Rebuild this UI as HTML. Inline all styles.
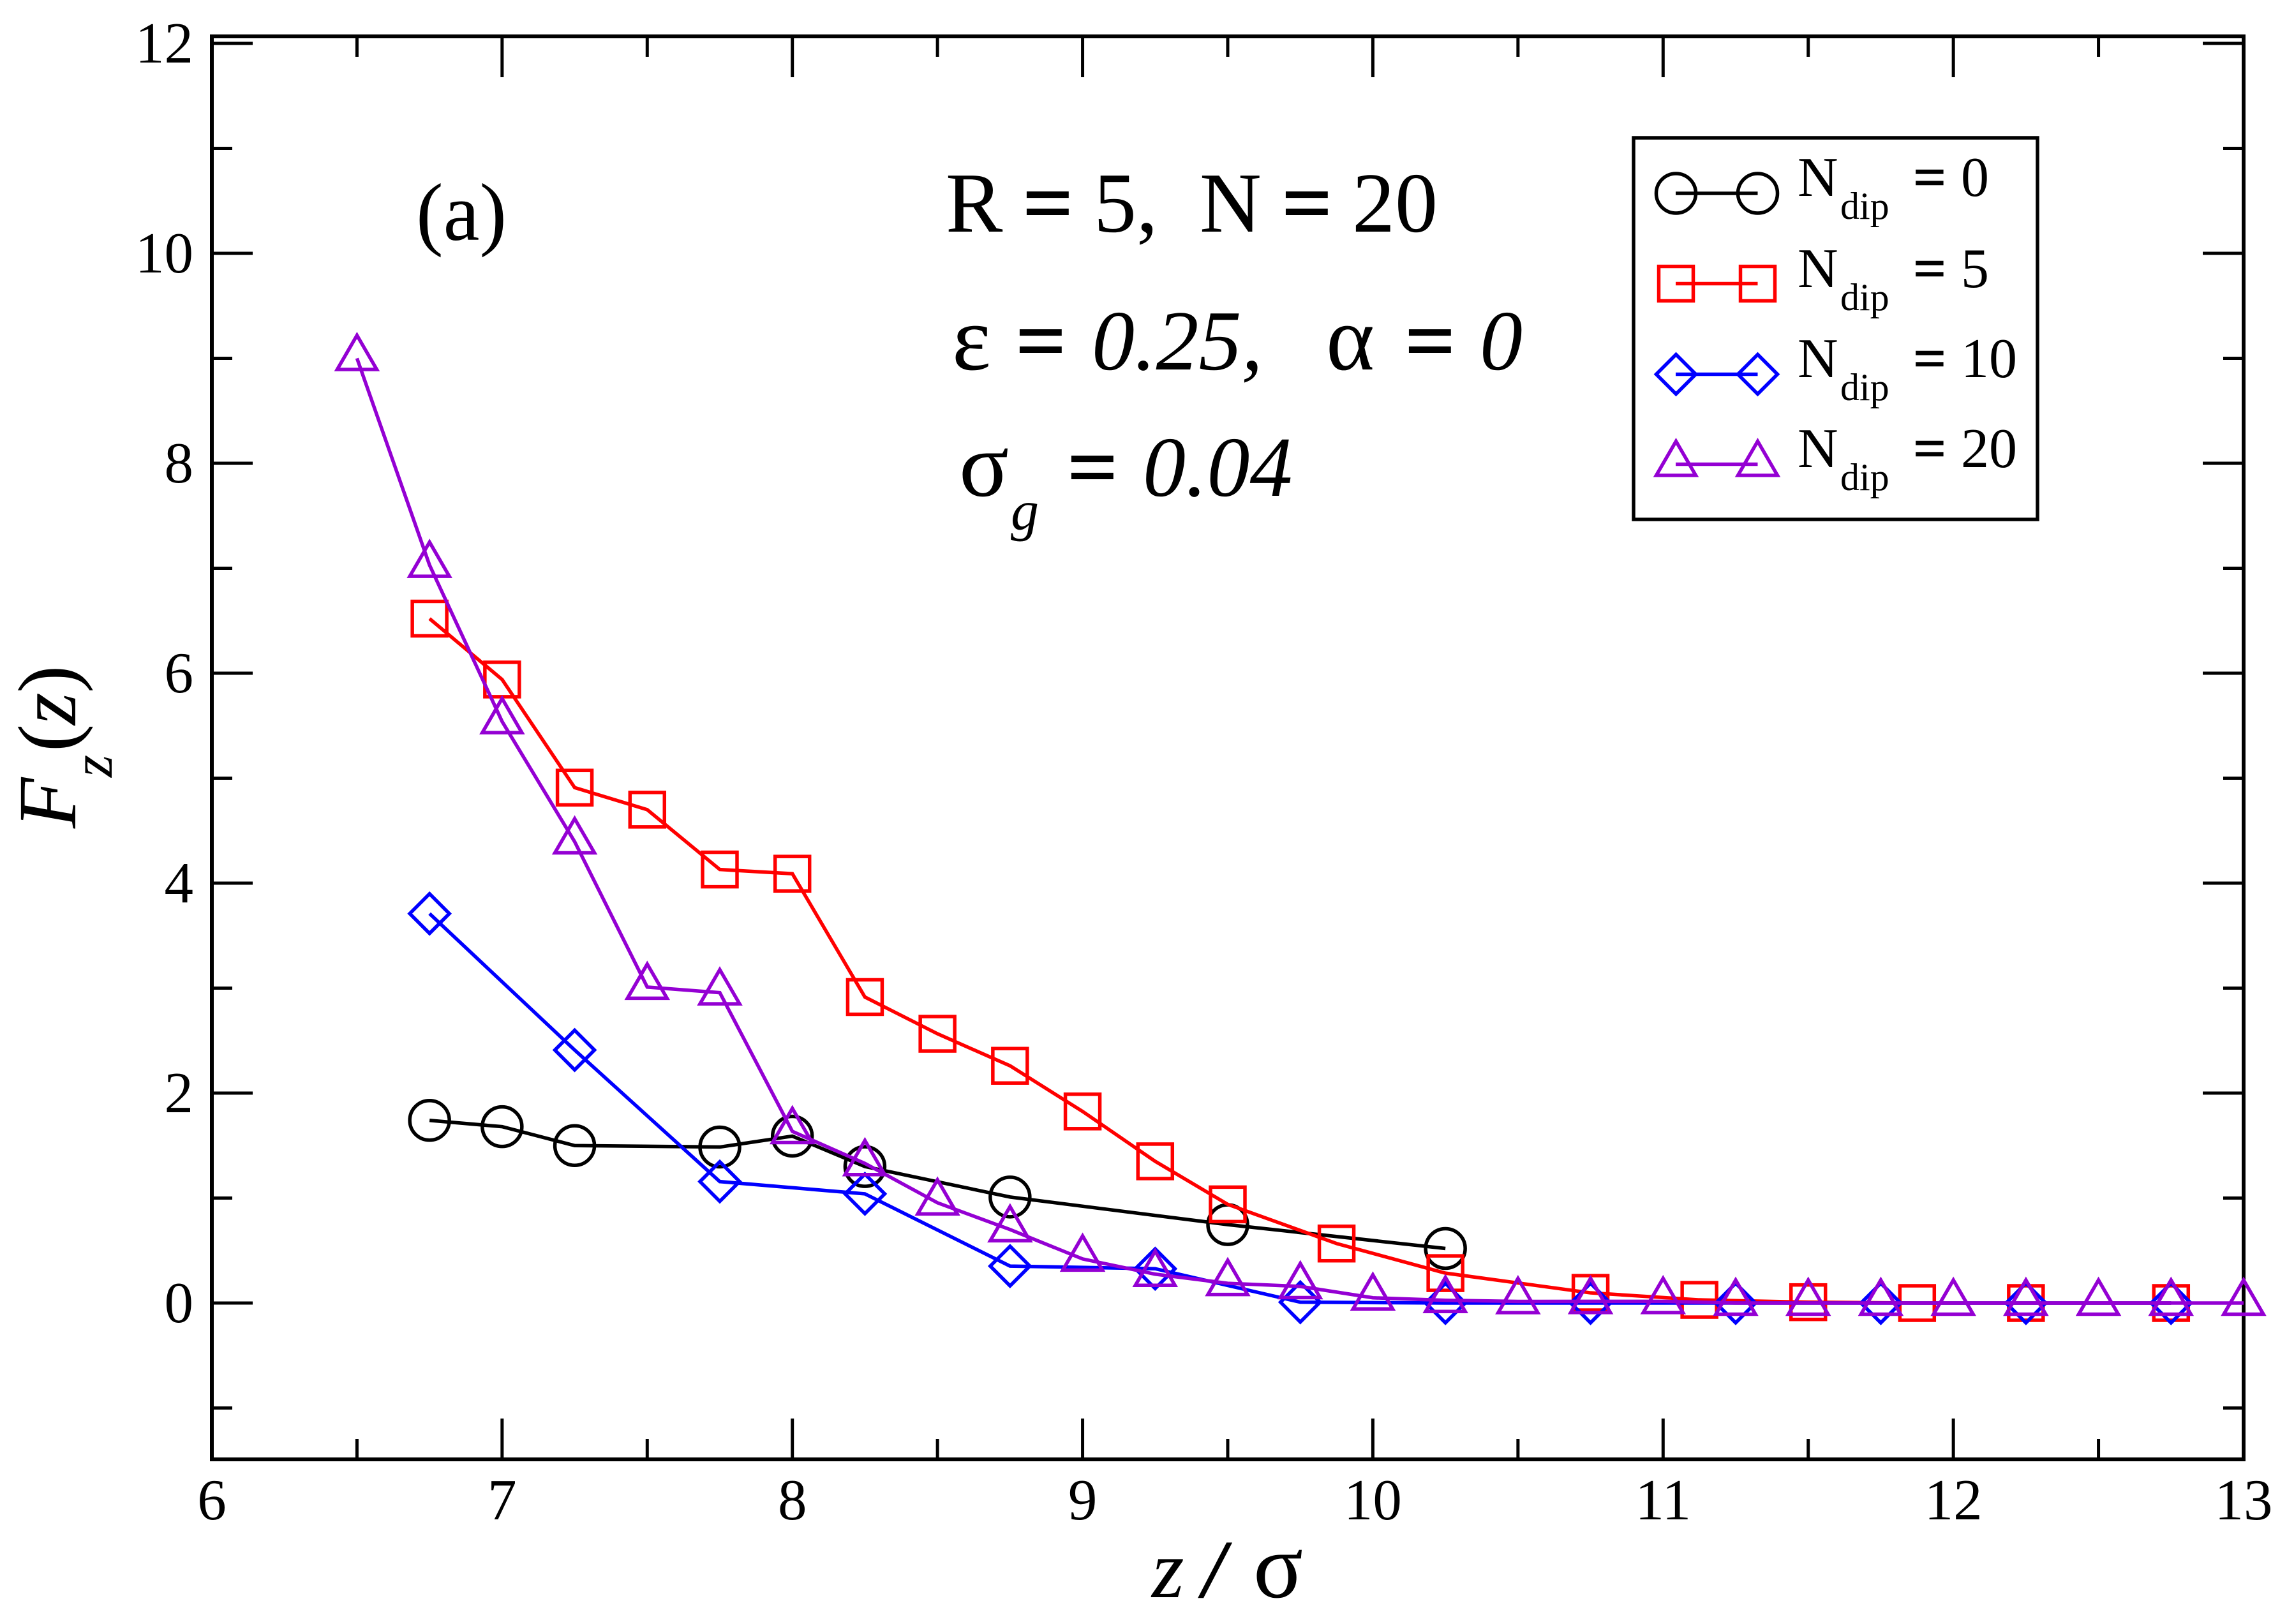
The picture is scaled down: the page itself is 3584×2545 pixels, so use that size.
<!DOCTYPE html>
<html lang="en">
<head>
<meta charset="utf-8">
<title>Fz(z) chart</title>
<style>
html,body{margin:0;padding:0;background:#fff;}
svg{display:block;font-family:"Liberation Serif","DejaVu Serif",serif;fill:#000;}
text{fill:#000;stroke:none;}
.it{font-style:italic;}
text.eq{stroke:#000;stroke-width:3.5;}
tspan.eq{stroke:#000;stroke-width:2.5;}
.gr{font-size:145px;}
</style>
</head>
<body>
<svg id="chart" xmlns="http://www.w3.org/2000/svg" width="3584" height="2545" viewBox="0 0 3584 2545">
  <rect x="0" y="0" width="3584" height="2545" fill="#fff"/>
  <g id="axes"></g>
  <g id="series"></g>

  <text x="652" y="376" font-size="128">(a)</text>

  <g font-size="134">
    <text x="1482" y="363">R</text><text class="eq" x="1604" y="363">=</text><text x="1714" y="363">5,</text>
    <text x="1880" y="363">N</text><text class="eq" x="2010" y="363">=</text><text x="2119" y="363">20</text>
  </g>
  <g font-size="134">
    <text class="gr" x="1492" y="579">ε</text><text class="eq" x="1593" y="579">=</text><text class="it" x="1711" y="579">0.25,</text>
    <text class="gr" x="2078" y="579">α</text><text class="eq" x="2203" y="579">=</text><text class="it" x="2319" y="579">0</text>
  </g>
  <g font-size="134">
    <text class="gr" x="1503" y="777">σ</text><text class="it" x="1584" y="830" font-size="88">g</text>
    <text class="eq" x="1674" y="777">=</text><text class="it" x="1791" y="777">0.04</text>
  </g>

  <g font-size="130">
    <text class="it" x="1805" y="2503">z</text>
    <text x="1885" y="2503" style="font-weight:bold;font-style:italic">/</text>
    <text class="gr" x="1964" y="2503">σ</text>
  </g>
  <g transform="translate(118 0) rotate(-90)">
    <text class="it" x="-1298" y="0" font-size="130">F</text>
    <text class="it" x="-1218" y="57" font-size="90">z</text>
    <text x="-1178" y="0" font-size="130">(</text>
    <text class="it" x="-1136" y="0" font-size="130">z</text>
    <text x="-1086" y="0" font-size="130">)</text>
  </g>

  <g>
    <rect x="2560" y="216" width="633" height="598" fill="#fff" stroke="#000" stroke-width="5.5"/>

    <g fill="none" stroke="#000" stroke-width="5.5">
      <line x1="2626" y1="303" x2="2754.500" y2="303"/>
      <circle cx="2626.500" cy="303" r="31"/><circle cx="2754.500" cy="303" r="31"/>
    </g>
    <text font-size="88" y="307"><tspan x="2817">N</tspan><tspan x="2884" y="343" font-size="60">dip</tspan><tspan class="eq" x="2999" y="307">=</tspan><tspan x="3073" y="307">0</tspan></text>

    <g fill="none" stroke="#f00" stroke-width="5.5">
      <line x1="2626" y1="444.500" x2="2754.500" y2="444.500"/>
      <rect x="2599.500" y="417.500" width="54" height="54"/><rect x="2727.500" y="417.500" width="54" height="54"/>
    </g>
    <text font-size="88" y="450"><tspan x="2817">N</tspan><tspan x="2884" y="486" font-size="60">dip</tspan><tspan class="eq" x="2999" y="450">=</tspan><tspan x="3073" y="450">5</tspan></text>

    <g fill="none" stroke="#00f" stroke-width="5.5">
      <line x1="2626" y1="586.500" x2="2754.500" y2="586.500"/>
      <polygon points="2626.500,555.500 2657.500,586.500 2626.500,617.500 2595.500,586.500"/>
      <polygon points="2754.500,555.500 2785.500,586.500 2754.500,617.500 2723.500,586.500"/>
    </g>
    <text font-size="88" y="591"><tspan x="2817">N</tspan><tspan x="2884" y="627" font-size="60">dip</tspan><tspan class="eq" x="2999" y="591">=</tspan><tspan x="3073" y="591">10</tspan></text>

    <g fill="none" stroke="#9400d3" stroke-width="5.5">
      <line x1="2626" y1="727.500" x2="2754.500" y2="727.500"/>
      <polygon points="2626.500,691.500 2657.500,745 2595.500,745"/>
      <polygon points="2754.500,691.500 2785.500,745 2723.500,745"/>
    </g>
    <text font-size="88" y="732"><tspan x="2817">N</tspan><tspan x="2884" y="768" font-size="60">dip</tspan><tspan class="eq" x="2999" y="732">=</tspan><tspan x="3073" y="732">20</tspan></text>
  </g>
</svg>

<script>
var xTickLabels = [6, 7, 8, 9, 10, 11, 12, 13];
var xMinorTicks = [6.5, 7.5, 8.5, 9.5, 10.5, 11.5, 12.5];
var yTickLabels = [0, 2, 4, 6, 8, 10, 12];
var yMinorTicks = [-1, 1, 3, 5, 7, 9, 11];

var zNdip0 = [6.75, 7, 7.25, 7.75, 8, 8.25, 8.75, 9.5, 10.25];
var fNdip0 = [1.74, 1.68, 1.50, 1.486, 1.59, 1.30, 1.01, 0.747, 0.52];

var zNdip5 = [6.75, 7, 7.25, 7.5, 7.75, 8, 8.25, 8.5, 8.75, 9, 9.25, 9.5, 9.875, 10.25, 10.75, 11.125, 11.5, 11.875, 12.25, 12.75];
var fNdip5 = [6.52, 5.94, 4.91, 4.70, 4.13, 4.09, 2.915, 2.565, 2.26, 1.825, 1.35, 0.94, 0.567, 0.285, 0.097, 0.03, 0.008, 0, 0, 0];

var zNdip10 = [6.75, 7.25, 7.75, 8.25, 8.75, 9.25, 9.75, 10.25, 10.75, 11.25, 11.75, 12.25, 12.75];
var fNdip10 = [3.71, 2.41, 1.157, 1.04, 0.352, 0.327, 0.008, 0, 0, 0, 0, 0, 0];

var zNdip20 = [6.5, 6.75, 7, 7.25, 7.5, 7.75, 8, 8.25, 8.5, 8.75, 9, 9.25, 9.5, 9.75, 10, 10.25, 10.5, 10.75, 11, 11.25, 11.5, 11.75, 12, 12.25, 12.5, 12.75, 13];
var fNdip20 = [9.0, 7.03, 5.54, 4.395, 3.01, 2.957, 1.635, 1.33, 0.955, 0.70, 0.42, 0.275, 0.188, 0.158, 0.05, 0.026, 0.015, 0.016, 0.016, 0, 0, 0, 0, 0, 0, 0, 0];

var NS = 'http://www.w3.org/2000/svg';
var axisX0 = 332, axisX1 = 3516, axisY0 = 57, axisY1 = 2287;
var xLow = 6, xHigh = 13, yLow = -1.4894, yHigh = 12.0669;

function xScale(v) { return axisX0 + (v - xLow) * (axisX1 - axisX0) / (xHigh - xLow); }
function yScale(v) { return axisY1 - (v - yLow) * (axisY1 - axisY0) / (yHigh - yLow); }

function make(tag, attrs, parent) {
  var node = document.createElementNS(NS, tag);
  for (var k in attrs) { node.setAttribute(k, attrs[k]); }
  parent.appendChild(node);
  return node;
}

var axes = document.getElementById('axes');
var seriesLayer = document.getElementById('series');

var frame = make('rect', {x: axisX0, y: axisY0, width: axisX1 - axisX0, height: axisY1 - axisY0, fill: 'none', stroke: '#000', 'stroke-width': 6}, axes);



function xTick(v, len) {
  var px = xScale(v);
  var bottom = make('line', {x1: px, y1: axisY1, x2: px, y2: axisY1 - len, stroke: '#000', 'stroke-width': 5}, axes);
  
  
  var top = make('line', {x1: px, y1: axisY0, x2: px, y2: axisY0 + len, stroke: '#000', 'stroke-width': 5}, axes);
  
  
}
function yTick(v, len) {
  var py = yScale(v);
  var left = make('line', {x1: axisX0, y1: py, x2: axisX0 + len, y2: py, stroke: '#000', 'stroke-width': 5}, axes);
  
  
  var right = make('line', {x1: axisX1, y1: py, x2: axisX1 - len, y2: py, stroke: '#000', 'stroke-width': 5}, axes);
  
  
}

xMinorTicks.forEach(function (v) { xTick(v, 32); });
yMinorTicks.forEach(function (v) { yTick(v, 32); });

xTickLabels.forEach(function (v) {
  if (v !== xLow && v !== xHigh) { xTick(v, 64); }
  var label = make('text', {x: xScale(v), y: 2381, 'font-size': 91, 'text-anchor': 'middle'}, axes);
  label.textContent = String(v);
  
  
});

yTickLabels.forEach(function (v) {
  yTick(v, 64);
  var label = make('text', {x: 303, y: yScale(v) + 30, 'font-size': 91, 'text-anchor': 'end'}, axes);
  label.textContent = String(v);
  
  
});

function drawMarker(shape, px, py, color, parent) {
  var base = {fill: 'none', stroke: color, 'stroke-width': 5.5};
  var node;
  if (shape === 'circle') {
    base.cx = px; base.cy = py; base.r = 31;
    node = make('circle', base, parent);
  } else if (shape === 'square') {
    base.x = px - 27; base.y = py - 27; base.width = 54; base.height = 54;
    node = make('rect', base, parent);
  } else if (shape === 'diamond') {
    base.points = [px, py - 31, px + 31, py, px, py + 31, px - 31, py].join(' ');
    node = make('polygon', base, parent);
  } else {
    base.points = [px, py - 36, px + 31, py + 17.5, px - 31, py + 17.5].join(' ');
    node = make('polygon', base, parent);
  }
  return node;
}

function drawSeries(zs, fs, color, shape, name) {
  var group = make('g', {}, seriesLayer);
  
  
  var pts = zs.map(function (z, i) { return xScale(z) + ',' + yScale(fs[i]); }).join(' ');
  var line = make('polyline', {points: pts, fill: 'none', stroke: color, 'stroke-width': 5.5, 'stroke-linejoin': 'miter'}, group);
  
  
  zs.forEach(function (z, i) {
    var m = drawMarker(shape, xScale(z), yScale(fs[i]), color, group);
    
    
  });
}

drawSeries(zNdip0, fNdip0, '#000', 'circle', 'series-ndip-0');
drawSeries(zNdip5, fNdip5, '#f00', 'square', 'series-ndip-5');
drawSeries(zNdip10, fNdip10, '#00f', 'diamond', 'series-ndip-10');
drawSeries(zNdip20, fNdip20, '#9400d3', 'triangle', 'series-ndip-20');
</script>
</body>
</html>
